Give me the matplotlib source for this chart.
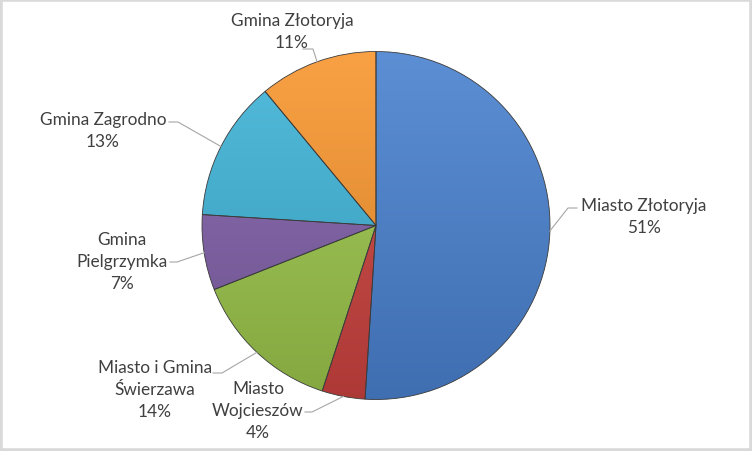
import numpy as np
import matplotlib.pyplot as plt
import matplotlib.colors as mcolors
from matplotlib.patches import Rectangle

# data (clockwise from 12 o'clock)
labels = ["Miasto Złotoryja", "Miasto\nWojcieszów", "Miasto i Gmina\nŚwierzawa",
          "Gmina\nPielgrzymka", "Gmina Zagrodno", "Gmina Złotoryja"]
shares = [51, 4, 14, 7, 13, 11]
colors = ["#4a82d0", "#cc433f", "#9cc64b", "#8060a8", "#40b4d8", "#f8962f"]

# label layout in pixel coords (y from top): text centre, stub end near text, elbow
text_pos = [(644, 217), (258, 411), (155, 390), (122, 262), (103, 131), (292, 32)]
stub_pos = [(577, 209), (305, 413), (213, 374), (170, 263), (169, 123), (303, 50)]
elbow_pos = [(568, 209), (312, 413), (222, 374), (177, 263), (178, 123), (313, 50)]

W, H = 752, 452
cx, cy, R = 376, H - 226.5, 174

fig = plt.figure(figsize=(W / 100, H / 100), dpi=100)
ax = fig.add_axes([0, 0, 1, 1])

wedges, _ = ax.pie(shares, colors=colors, startangle=90, counterclock=False,
                   center=(cx, cy), radius=R,
                   wedgeprops=dict(edgecolor="#3a3a3a", linewidth=0.6))

# soft vertical gradient on each slice, like the Excel preset
for w, c in zip(wedges, colors):
    base = np.array(mcolors.to_rgb(c))
    t = np.linspace(0, 1, 256)[:, None]
    light = base + (1 - base) * 0.1
    dark = base * 0.85
    grad = light[None, None, :] * (1 - t[..., None]) + dark[None, None, :] * t[..., None]
    grad = np.repeat(grad, 2, axis=1)
    im = ax.imshow(grad, extent=(cx - R, cx + R, cy - R, cy + R), origin="upper",
                   zorder=w.get_zorder() + 0.1, aspect="auto")
    im.set_clip_path(w)
    w.set_zorder(w.get_zorder() + 0.2)
    w.set_facecolor("none")

# labels and leader lines
cum = np.cumsum([0] + shares[:-1])
for i, (lab, s) in enumerate(zip(labels, shares)):
    mid = 90 - (cum[i] + s / 2) / 100 * 360
    ex = cx + R * np.cos(np.radians(mid))
    ey = cy + R * np.sin(np.radians(mid))
    sx, sy = stub_pos[i]
    bx, by = elbow_pos[i]
    ax.plot([sx, bx, ex], [H - sy, H - by, ey], color="#a6a6a6", lw=0.8, zorder=5)
    tx, ty = text_pos[i]
    ax.text(tx, H - ty, f"{lab}\n{s}%", ha="center", va="center", fontsize=12.4,
            family="Lato", color="#404040", linespacing=1.45, zorder=6)

ax.set_xlim(0, W)
ax.set_ylim(0, H)
ax.set_aspect("equal")
ax.axis("off")

fig.patches.append(Rectangle((0, 0), 1, 1, transform=fig.transFigure, fill=False,
                             edgecolor="#d9d9d9", linewidth=4))

fig.savefig("out.png", dpi=100)
